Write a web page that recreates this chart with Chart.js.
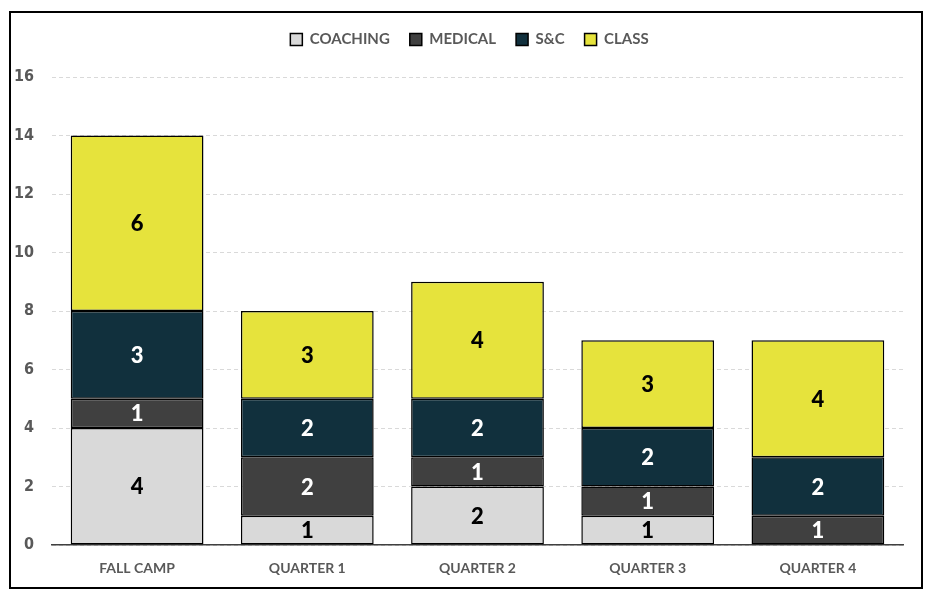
<!DOCTYPE html>
<html>
<head>
<meta charset="utf-8">
<script src="https://cdn.jsdelivr.net/npm/chart.js@4.4.1/dist/chart.umd.min.js"></script>
<style>
  html, body { margin: 0; padding: 0; background: #fff; }
  #wrap { position: relative; width: 936px; height: 603px; }
  #c { position: absolute; left: 0; top: 0; }
  #frame { position: absolute; left: 9px; top: 11px; width: 914px; height: 578px; box-sizing: border-box; border: 2px solid #000; pointer-events: none; }
</style>
</head>
<body>
<div id="wrap">
  <canvas id="c" width="936" height="603"></canvas>
  <div id="frame"></div>
</div>
<script>
const categories = ["FALL CAMP", "QUARTER 1", "QUARTER 2", "QUARTER 3", "QUARTER 4"];
const coaching = [4, 1, 2, 1, 0];
const medical  = [1, 2, 1, 1, 1];
const sandc    = [3, 2, 2, 2, 2];
const classes  = [6, 3, 4, 3, 4];
const seriesNames = ["COACHING", "MEDICAL", "S&C", "CLASS"];
const yTicks = [0, 2, 4, 6, 8, 10, 12, 14, 16];

const colors = ["#d9d9d9", "#404040", "#11303d", "#e6e33c"];
const labelColors = ["#000000", "#ffffff", "#ffffff", "#000000"];
const seriesData = [coaching, medical, sandc, classes];

const datasets = seriesData.map((d, i) => ({
  label: seriesNames[i],
  data: d,
  backgroundColor: colors[i],
  borderColor: "#000000",
  borderWidth: 1.5,
  borderSkipped: false,
  categoryPercentage: 0.78,
  barPercentage: 1.0
}));

const legendShift = {
  id: "legendShift",
  beforeLayout(chart) {
    const lg = chart.legend;
    if (lg && !lg._patched) {
      const origDraw = lg.draw.bind(lg);
      lg.draw = function () {
        const ctx = this.ctx;
        ctx.save();
        ctx.translate(18, -20);
        origDraw();
        ctx.restore();
      };
      lg._patched = true;
    }
  }
};

const segLabels = {
  id: "segLabels",
  afterDatasetsDraw(chart) {
    const ctx = chart.ctx;
    ctx.save();
    ctx.font = "900 22px Lato, 'Open Sans', sans-serif";
    ctx.textAlign = "center";
    ctx.textBaseline = "middle";
    chart.data.datasets.forEach((ds, di) => {
      const meta = chart.getDatasetMeta(di);
      meta.data.forEach((el, i) => {
        const v = ds.data[i];
        if (!v) return;
        ctx.fillStyle = labelColors[di];
        ctx.fillText(String(v), el.x, (el.y + el.base) / 2 + 1);
      });
    });
    ctx.restore();
  }
};

new Chart(document.getElementById("c"), {
  type: "bar",
  data: { labels: categories, datasets },
  options: {
    responsive: false,
    animation: false,
    layout: { padding: { top: 32, right: 33, bottom: 0, left: 0 } },
    plugins: {
      legend: {
        display: true,
        position: "top",
        labels: {
          boxWidth: 12,
          boxHeight: 12,
          padding: 20,
          color: "#595959",
          font: { family: "Lato, 'Open Sans', sans-serif", size: 15, weight: "bold" },
          generateLabels(chart) {
            return chart.data.datasets.map((ds, i) => ({
              text: ds.label,
              fillStyle: colors[i],
              strokeStyle: "#000000",
              lineWidth: 1.5,
              hidden: false,
              datasetIndex: i,
              fontColor: "#595959"
            }));
          }
        }
      },
      tooltip: { enabled: false }
    },
    scales: {
      x: {
        stacked: true,
        grid: { display: false, drawTicks: false },
        border: { display: true, color: "#404040", width: 1.5 },
        ticks: {
          color: "#595959",
          padding: 15,
          font: { family: "Lato, 'Open Sans', sans-serif", size: 14, weight: "bold" }
        },
        afterFit(scale) { scale.height = 58; }
      },
      y: {
        stacked: true,
        min: 0,
        max: 16,
        afterBuildTicks(scale) { scale.ticks = yTicks.map(v => ({ value: v })); },
        grid: { color: "#d9d9d9", lineWidth: 1, drawTicks: false },
        border: { display: false, dash: [4, 3] },
        ticks: {
          color: "#595959",
          padding: 18,
          font: { family: "'Liberation Sans Narrow', 'DejaVu Sans Condensed', sans-serif", size: 16, weight: "bold" }
        },
        afterFit(scale) { scale.width = 52; }
      }
    }
  },
  plugins: [legendShift, segLabels]
});
</script>
</body>
</html>
